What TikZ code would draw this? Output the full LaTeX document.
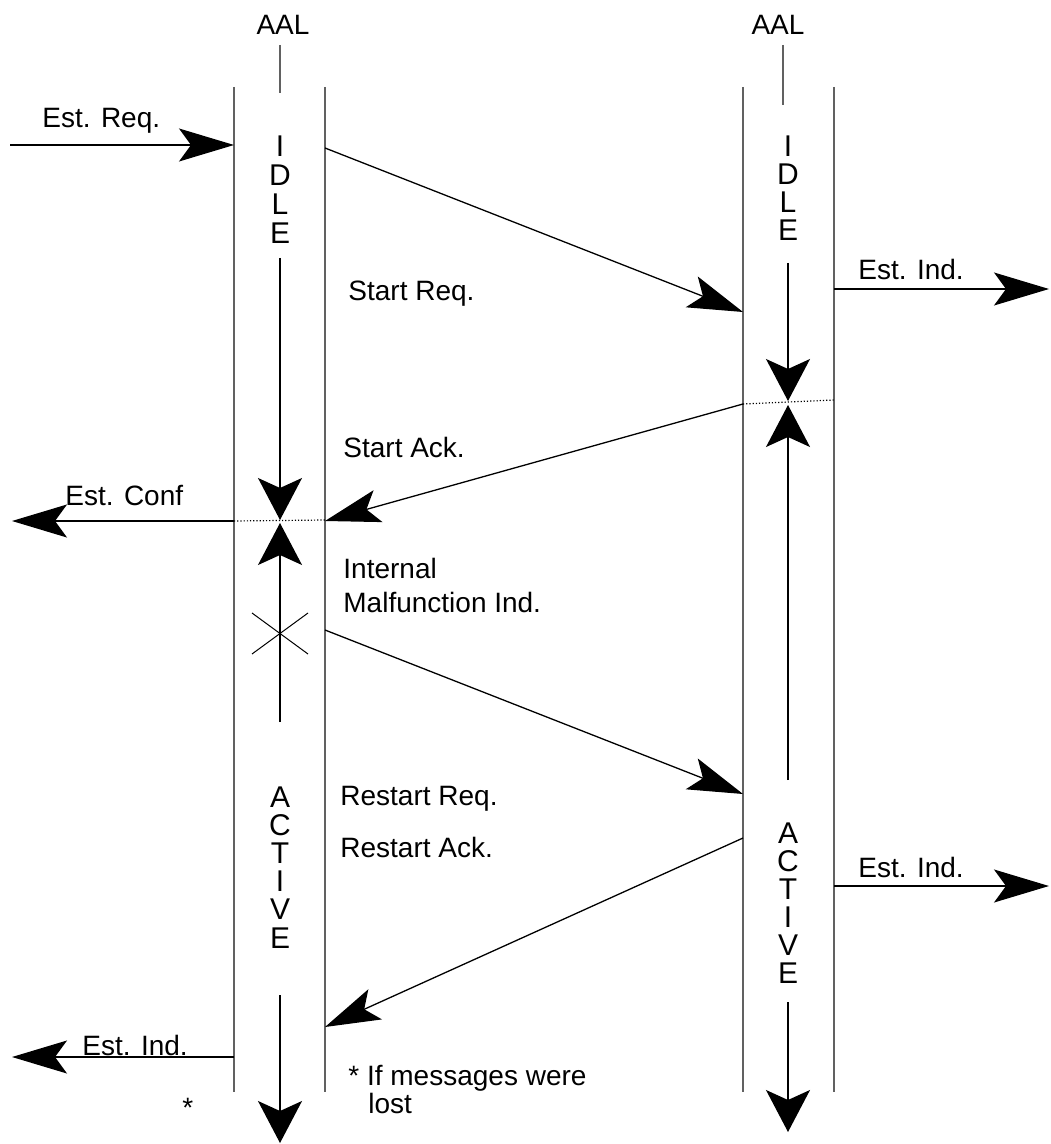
\documentclass[tikz,border=0pt]{standalone}
\usepackage{fontspec}
\setmainfont{Liberation Sans}
\usetikzlibrary{arrows.meta}
\begin{document}
\begin{tikzpicture}[x=0.5pt,y=-0.5pt,
  lane/.style={line width=1pt, draw=black!62},
  stub/.style={line width=0.8pt, draw=black!62},
  msg/.style={line width=0.65pt, -{Stealth[length=27.5pt,width=16.5pt,inset=6pt]}},
  flow/.style={line width=0.65pt, -{Stealth[length=21pt,width=22pt,inset=5pt]}},
  sync/.style={line width=0.6pt, densely dotted},
  cross/.style={line width=0.5pt},
  lbl/.style={font=\fontsize{14pt}{17pt}\selectfont, inner sep=0pt, anchor=base west},
  st/.style={font=\fontsize{15pt}{18pt}\selectfont, inner sep=0pt, anchor=base},
]
\useasboundingbox (0,0) rectangle (1050,1144);

% ---------- the two AAL entities ----------
\node[lbl, anchor=base] (aalA) at (283,35) {AAL};
\node[lbl, anchor=base] (aalB) at (778,35) {AAL};
\coordinate (aalAs1) at (280,45);  \coordinate (aalAs2) at (280,93);
\coordinate (aalBs1) at (783,45);  \coordinate (aalBs2) at (783,105);
\draw[stub] (aalAs1) -- (aalAs2);
\draw[stub] (aalBs1) -- (aalBs2);

% lane borders
\coordinate (A1t) at (234,87);  \coordinate (A1b) at (234,1092);
\coordinate (A2t) at (325,87);  \coordinate (A2b) at (325,1092);
\coordinate (B1t) at (743,87);  \coordinate (B1b) at (743,1092);
\coordinate (B2t) at (834,87);  \coordinate (B2b) at (834,1092);
\draw[lane] (A1t) -- (A1b);
\draw[lane] (A2t) -- (A2b);
\draw[lane] (B1t) -- (B1b);
\draw[lane] (B2t) -- (B2b);

% ---------- state names written down the lanes ----------
\foreach \ch [count=\i] in {I,D,L,E}
  \node[st] (idleA\i) at (280,{157+(\i-1)*29}) {\ch};
\foreach \ch [count=\i] in {I,D,L,E}
  \node[st] (idleB\i) at (788,{157+(\i-1)*28}) {\ch};
\foreach \ch [count=\i] in {A,C,T,I,V,E}
  \node[st] (actA\i) at (280,{807+(\i-1)*28.2}) {\ch};
\foreach \ch [count=\i] in {A,C,T,I,V,E}
  \node[st] (actB\i) at (788,{843+(\i-1)*28}) {\ch};

% ---------- end points ----------
\coordinate (reqIn)   at (10,145);   \coordinate (reqA)    at (234,145);
\coordinate (srA)     at (325,148);  \coordinate (srB)     at (743,312);
\coordinate (indB1)   at (834,289);  \coordinate (indOut1) at (1049,289);
\coordinate (idBs)    at (788,263);  \coordinate (idBe)    at (788,401);
\coordinate (syB1)    at (743,404);  \coordinate (syB2)    at (834,400);
\coordinate (upBs)    at (788,780);  \coordinate (upBe)    at (788,405);
\coordinate (saA)     at (325,521);
\coordinate (idAs)    at (280,258);  \coordinate (idAe)    at (280,520);
\coordinate (confA)   at (234,521);  \coordinate (confOut) at (12,521);
\coordinate (syA2)    at (325,520);
\coordinate (upAs)    at (280,722);  \coordinate (upAe)    at (280,523);
\coordinate (x1)      at (252,613);  \coordinate (x2)      at (308,654);
\coordinate (x3)      at (252,654);  \coordinate (x4)      at (308,613);
\coordinate (mfA)     at (325,630);  \coordinate (mfB)     at (743,794);
\coordinate (raB)     at (743,838);  \coordinate (raA)     at (325,1027);
\coordinate (indB2)   at (834,886);  \coordinate (indOut2) at (1049,886);
\coordinate (indA3)   at (234,1057); \coordinate (indOut3) at (12,1057);
\coordinate (acAs)    at (280,995);  \coordinate (acAe)    at (280,1143);
\coordinate (acBs)    at (788,1002); \coordinate (acBe)    at (788,1132);

% ---------- connectors ----------
\draw[msg] (reqIn) -- (reqA);
\draw[msg] (srA) -- (srB);
\draw[msg] (indB1) -- (indOut1);
\draw[flow] (idBs) -- (idBe);
\draw[sync] (syB1) -- (syB2);
\draw[flow] (upBs) -- (upBe);
\draw[msg] (syB1) -- (saA);
\draw[flow] (idAs) -- (idAe);
\draw[msg] (confA) -- (confOut);
\draw[sync] (confA) -- (syA2);
\draw[flow] (upAs) -- (upAe);
\draw[cross] (x1) -- (x2);
\draw[cross] (x3) -- (x4);
\draw[msg] (mfA) -- (mfB);
\draw[msg] (raB) -- (raA);
\draw[msg] (indB2) -- (indOut2);
\draw[msg] (indA3) -- (indOut3);
\draw[flow] (acAs) -- (acAe);
\draw[flow] (acBs) -- (acBe);

% ---------- labels ----------
\node[lbl] (tReq)   at (42,128)   {Est. Req.};
\node[lbl] (tSReq)  at (348,300)  {Start Req.};
\node[lbl] (tInd1)  at (858,280)  {Est. Ind.};
\node[lbl] (tSAck)  at (343,457)  {Start Ack.};
\node[lbl] (tConf)  at (65,505)   {Est. Conf};
\node[lbl] (tInt1)  at (343,578)  {Internal};
\node[lbl] (tInt2)  at (343,612)  {Malfunction Ind.};
\node[lbl] (tRReq)  at (340,805)  {Restart Req.};
\node[lbl] (tRAck)  at (340,857)  {Restart Ack.};
\node[lbl] (tInd2)  at (858,877)  {Est. Ind.};
\node[lbl] (tInd3)  at (82,1055)  {Est. Ind.};
\node[lbl] (tStar)  at (182,1117) {*};
\node[lbl] (tNote1) at (348,1085) {* If messages were};
\node[lbl] (tNote2) at (368,1113) {lost};
\end{tikzpicture}
\end{document}
